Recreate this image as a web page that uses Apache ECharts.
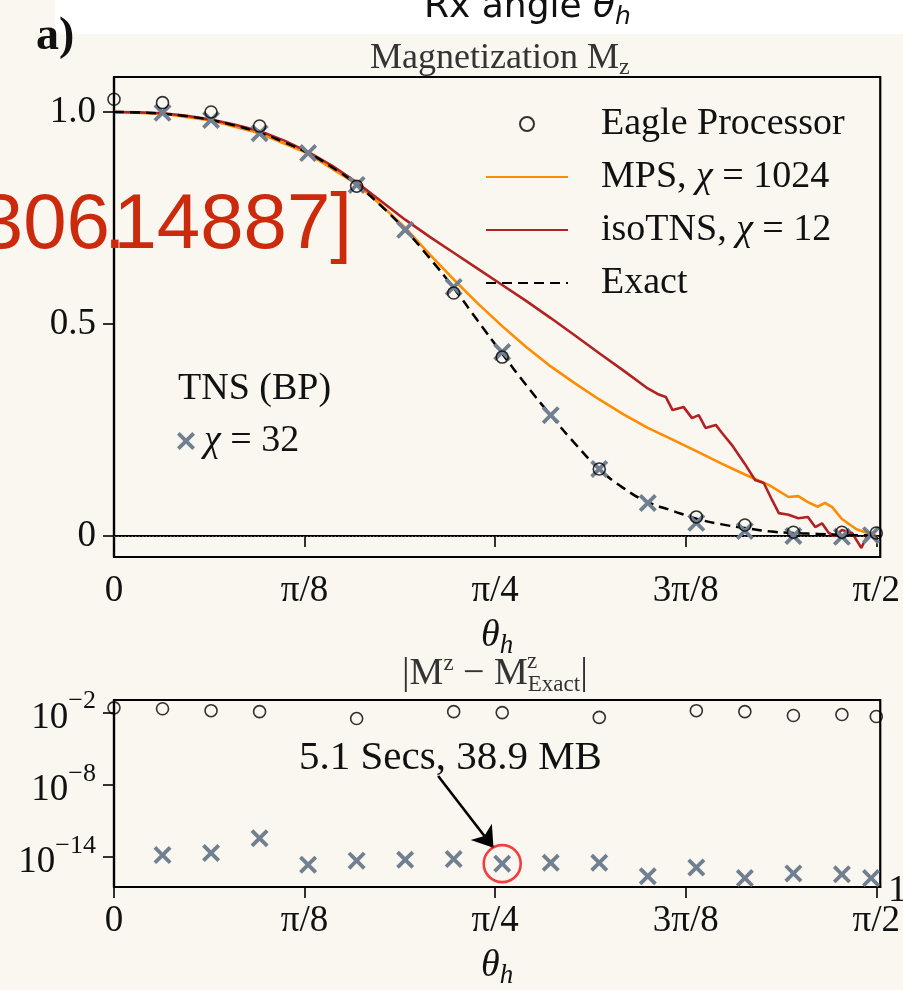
<!DOCTYPE html>
<html>
<head>
<meta charset="utf-8">
<script src="https://cdn.jsdelivr.net/npm/echarts@6/dist/echarts.min.js"></script>
<style>
  html, body { margin: 0; padding: 0; background: #faf6f0; }
  #chart { width: 903px; height: 990px; }
</style>
</head>
<body>
<div id="chart"></div>
<script>
var serif = '"Liberation Serif", "DejaVu Serif", serif';

// x ticks (radians) and their labels
var tickValues = [0, Math.PI / 8, Math.PI / 4, 3 * Math.PI / 8, Math.PI / 2];
var tickLabels = ['0', 'π/8', 'π/4', '3π/8', 'π/2'];

// Eagle processor (experiment)
var eagleTheta = [0, 0.1, 0.2, 0.3, 0.5, 0.7, 0.8, 1.0, 1.2, 1.3, 1.4, 1.5, 1.5708];
var eagleMz = [1.03, 1.022, 1.0, 0.967, 0.825, 0.573, 0.422, 0.158, 0.045, 0.026, 0.009, 0.009, 0.007];
var eagleErr = [0.025, 0.021, 0.0145, 0.012, 0.0032, 0.012, 0.01, 0.004, 0.0145, 0.012, 0.0058, 0.0069, 0.0048];

// TNS (BP), chi = 32
var tnsTheta = [0.1, 0.2, 0.3, 0.4, 0.5, 0.6, 0.7, 0.8, 0.9, 1.0, 1.1, 1.2, 1.3, 1.4, 1.5, 1.56];
var tnsMz = [0.998, 0.981, 0.95, 0.903, 0.828, 0.722, 0.587, 0.434, 0.285, 0.158, 0.078, 0.031, 0.012, 0.0, -0.002, 0.002];
var tnsErr = [1.4e-14, 2.1e-14, 3.5e-13, 2.2e-15, 4.8e-15, 5.8e-15, 6.5e-15, 2.7e-15, 3.2e-15, 3.2e-15, 2.4e-16, 1.3e-15, 1.7e-16, 4.2e-16, 3.5e-16, 1.7e-16];

// exact
var exactTheta = [0, 0.05, 0.1, 0.15, 0.2, 0.25, 0.3, 0.35, 0.4, 0.45, 0.5, 0.55, 0.6, 0.65, 0.7, 0.75, 0.8, 0.85, 0.9, 0.95, 1.0, 1.05, 1.1, 1.15, 1.2, 1.25, 1.3, 1.35, 1.4, 1.45, 1.5, 1.5708];
var exactMz = [1.0, 0.999, 0.996, 0.99, 0.981, 0.968, 0.951, 0.929, 0.903, 0.869, 0.829, 0.779, 0.722, 0.656, 0.585, 0.507, 0.43, 0.355, 0.285, 0.218, 0.158, 0.113, 0.08, 0.06, 0.041, 0.028, 0.019, 0.011, 0.007, 0.005, 0.003, 0.001];

// MPS, chi = 1024
var mpsTheta = [0, 0.1, 0.2, 0.3, 0.4, 0.5, 0.55, 0.6, 0.65, 0.7, 0.75, 0.8, 0.85, 0.9, 0.95, 1.0, 1.05, 1.1, 1.15, 1.2, 1.25, 1.3, 1.35, 1.39, 1.41, 1.43, 1.45, 1.465, 1.48, 1.5, 1.53, 1.5708];
var mpsMz = [1.0, 0.996, 0.98, 0.95, 0.902, 0.83, 0.781, 0.727, 0.665, 0.605, 0.548, 0.495, 0.445, 0.4, 0.36, 0.322, 0.287, 0.255, 0.228, 0.2, 0.172, 0.145, 0.12, 0.092, 0.094, 0.08, 0.069, 0.078, 0.068, 0.04, 0.016, 0.0];

// isoTNS, chi = 12
var isoTheta = [0, 0.05, 0.1, 0.15, 0.2, 0.25, 0.3, 0.35, 0.4, 0.45, 0.5, 0.55, 0.6, 0.65, 0.7, 0.75, 0.8, 0.85, 0.9, 0.95, 1.0, 1.05, 1.1, 1.12, 1.137, 1.151, 1.174, 1.191, 1.205, 1.219, 1.24, 1.253, 1.273, 1.3, 1.321, 1.339, 1.356, 1.37, 1.39, 1.41, 1.43, 1.445, 1.459, 1.473, 1.486, 1.5, 1.521, 1.54, 1.552, 1.5708];
var isoMz = [1.0, 0.999, 0.997, 0.991, 0.982, 0.97, 0.955, 0.933, 0.906, 0.873, 0.834, 0.79, 0.746, 0.706, 0.668, 0.63, 0.592, 0.554, 0.514, 0.473, 0.431, 0.39, 0.348, 0.335, 0.328, 0.297, 0.304, 0.278, 0.285, 0.255, 0.262, 0.243, 0.215, 0.17, 0.132, 0.125, 0.085, 0.054, 0.05, 0.042, 0.045, 0.021, 0.03, 0.007, 0.0, 0.014, 0.007, -0.028, 0.0, 0.0];

// annotation: marked TNS point and arrow start/end
var markedPoint = [0.8, 2.7e-15];
var arrowFrom = [0.668, Math.pow(10, -7.27)];
var arrowTo = [0.782, Math.pow(10, -13.25)];

function pairs(xs, ys) {
  return xs.map(function (x, i) { return [x, ys[i]]; });
}
function logPairs(xs, ys) {
  return xs.map(function (x, i) { return [x, Math.log10(ys[i])]; });
}
function xLabel(v) {
  var best = 0;
  for (var i = 1; i < tickValues.length; i++) {
    if (Math.abs(tickValues[i] - v) < Math.abs(tickValues[best] - v)) best = i;
  }
  return tickLabels[best];
}

var crossPath = 'path://M0,3 L3,0 L10,7 L17,0 L20,3 L13,10 L20,17 L17,20 L10,13 L3,20 L0,17 L7,10 Z';
var slate = '#708090';
var sans = '"Liberation Sans", Arial, sans-serif';
var arxivStyle = { fontFamily: sans, fontSize: 78, color: '#cc2a0c', fontWeight: 'normal' };

var thetaName = '{t|θ}{h|h}';
var thetaRich = {
  t: { fontFamily: serif, fontStyle: 'italic', fontWeight: 'normal', fontSize: 38, lineHeight: 46, color: '#111', verticalAlign: 'middle' },
  h: { fontFamily: serif, fontStyle: 'italic', fontWeight: 'normal', fontSize: 27, lineHeight: 27, color: '#111', verticalAlign: 'bottom' }
};

function xAxisFor(grid) {
  return {
    type: 'value', gridIndex: grid, min: 0, max: 1.579,
    name: thetaName, nameLocation: 'middle', nameGap: 56,
    nameTextStyle: { rich: thetaRich },
    axisLine: { lineStyle: { color: '#000', width: 2.2 } },
    axisTick: { show: true, length: 11, lineStyle: { color: '#000', width: 1.6 }, customValues: tickValues },
    axisLabel: { customValues: tickValues, formatter: xLabel, margin: 16, fontFamily: serif, fontSize: 37, color: '#111' },
    splitLine: { show: false }
  };
}

var noSymbol = { opacity: 0 };

var chart = echarts.init(document.getElementById('chart'));
chart.setOption({
  backgroundColor: '#faf6f0',
  animation: false,
  graphic: [
    { type: 'rect', left: 55, top: 0, z: -1, shape: { width: 848, height: 34 }, style: { fill: '#ffffff' } }
  ],
  title: [
    { text: 'a)', left: 36, top: 14, padding: 0,
      textStyle: { fontFamily: serif, fontWeight: 'bold', fontSize: 46, color: '#111' } },
    { text: '{a|Rx angle }{t|θ}{h|h}', left: 424, top: -14, padding: 0,
      textStyle: { rich: {
        a: { fontFamily: '"DejaVu Sans", sans-serif', fontWeight: 'normal', fontSize: 36, color: '#111', lineHeight: 44 },
        t: { fontFamily: '"DejaVu Sans", sans-serif', fontWeight: 'normal', fontStyle: 'italic', fontSize: 36, color: '#111', lineHeight: 44 },
        h: { fontFamily: '"DejaVu Sans", sans-serif', fontWeight: 'normal', fontStyle: 'italic', fontSize: 25, color: '#111', lineHeight: 25, verticalAlign: 'bottom' }
      } } },
    { text: '{a|Magnetization M}{s|z}', left: 370, top: 38, padding: 0,
      textStyle: { rich: {
        a: { fontFamily: serif, fontWeight: 'normal', fontSize: 36, color: '#333', lineHeight: 42 },
        s: { fontFamily: serif, fontWeight: 'normal', fontSize: 24, color: '#333', lineHeight: 24, verticalAlign: 'bottom' }
      } } },
    // overlaid arXiv id, cut at the left edge
    { text: '[2306', right: 793, top: 187, padding: 0, z: 20, textStyle: arxivStyle },
    { text: '.', left: 104, top: 187, padding: 0, z: 20, textStyle: arxivStyle },
    { text: '14887]', right: 551, top: 187, padding: 0, z: 20, textStyle: arxivStyle },
    { text: 'TNS (BP)', left: 178, top: 370, padding: 0,
      textStyle: { fontFamily: serif, fontSize: 38, color: '#111', fontWeight: 'normal' } },
    { text: '{a||M}{s|z}{a| − M}{p|Exact}{a||}', left: 402, top: 652, padding: 0,
      textStyle: { rich: {
        a: { fontFamily: serif, fontWeight: 'normal', fontSize: 38, color: '#333', lineHeight: 44 },
        s: { fontFamily: serif, fontWeight: 'normal', fontSize: 23, color: '#333', lineHeight: 23, verticalAlign: 'top' },
        p: { fontFamily: serif, fontWeight: 'normal', fontSize: 23, color: '#333', lineHeight: 23, verticalAlign: 'bottom' }
      } } },
    { text: 'z', left: 527, top: 650, padding: 0,
      textStyle: { fontFamily: serif, fontSize: 23, color: '#333', fontWeight: 'normal' } },
    { text: '5.1 Secs, 38.9 MB', left: 299, top: 738, padding: 0,
      textStyle: { fontFamily: serif, fontSize: 41, color: '#111', fontWeight: 'normal' } },
    { text: '1', left: 888, top: 872, padding: 0,
      textStyle: { fontFamily: serif, fontSize: 38, color: '#111', fontWeight: 'normal' } }
  ],
  legend: [
    {
      data: [
        { name: 'Eagle Processor' },
        { name: 'MPS, χ = 1024', itemStyle: noSymbol },
        { name: 'isoTNS, χ = 12', itemStyle: noSymbol },
        { name: 'Exact', itemStyle: noSymbol }
      ],
      orient: 'vertical', left: 485, top: 104, padding: 0,
      itemWidth: 82, itemHeight: 14, itemGap: 13, selectedMode: false,
      formatter: function (n) { return n.replace('χ', '{i|χ}'); },
      textStyle: {
        fontFamily: serif, fontSize: 38, color: '#111', lineHeight: 40, padding: [0, 0, 0, 28],
        rich: { i: { fontFamily: serif, fontStyle: 'italic', fontSize: 38, color: '#111' } }
      }
    },
    {
      data: ['TNS (BP), χ = 32'],
      left: 177, top: 421, padding: 0, itemWidth: 18, itemHeight: 18, selectedMode: false,
      formatter: function () { return '{i|χ} = 32'; },
      textStyle: {
        fontFamily: serif, fontSize: 38, color: '#111', lineHeight: 40, padding: [0, 0, 0, 4],
        rich: { i: { fontFamily: serif, fontStyle: 'italic', fontSize: 38, color: '#111' } }
      }
    }
  ],
  grid: [
    { left: 114, top: 77, width: 768, height: 480, show: true, borderColor: '#000', borderWidth: 2.2, backgroundColor: 'transparent' },
    { left: 114, top: 700, width: 768, height: 192, show: true, borderColor: '#000', borderWidth: 2.2, backgroundColor: 'transparent' }
  ],
  xAxis: [xAxisFor(0), xAxisFor(1)],
  yAxis: [
    {
      type: 'value', gridIndex: 0, min: -0.0495, max: 1.0825,
      axisLine: { show: true, lineStyle: { color: '#000', width: 2.2 } },
      axisTick: { show: true, length: 11, lineStyle: { color: '#000', width: 1.6 }, customValues: [0, 0.5, 1.0] },
      axisLabel: { customValues: [0, 0.5, 1.0], margin: 18, fontFamily: serif, fontSize: 37, color: '#111',
        formatter: function (v) { return v === 0 ? '0' : v.toFixed(1); } },
      splitLine: { show: false }
    },
    {
      type: 'value', gridIndex: 1, min: -16.51, max: -0.95,
      axisLine: { show: true, lineStyle: { color: '#000', width: 2.2 } },
      axisTick: { show: true, length: 11, lineStyle: { color: '#000', width: 1.6 }, customValues: [-14, -8, -2] },
      axisLabel: { customValues: [-14, -8, -2], margin: 18,
        formatter: function (v) { return '{b|10}{s|−' + Math.abs(Math.round(v)) + '}'; },
        rich: {
          b: { fontFamily: serif, fontSize: 37, color: '#111', lineHeight: 48, verticalAlign: 'bottom' },
          s: { fontFamily: serif, fontSize: 26, color: '#111', lineHeight: 26, verticalAlign: 'top' }
        } },
      splitLine: { show: false }
    }
  ],
  series: [
    {
      name: 'Exact', type: 'line', xAxisIndex: 0, yAxisIndex: 0, z: 3,
      data: pairs(exactTheta, exactMz), smooth: true, symbol: 'none',
      lineStyle: { color: '#000', width: 2.5, type: [10, 6] }, itemStyle: { color: '#000' },
      markLine: { silent: true, symbol: 'none', label: { show: false }, z: 1,
        lineStyle: { type: [1.5, 2], color: '#777', width: 0.8 }, data: [{ yAxis: 0 }] }
    },
    {
      name: 'MPS, χ = 1024', type: 'line', xAxisIndex: 0, yAxisIndex: 0, z: 2,
      data: pairs(mpsTheta, mpsMz), symbol: 'none',
      lineStyle: { color: '#ff8c00', width: 2.6 }, itemStyle: { color: '#ff8c00' }
    },
    {
      name: 'isoTNS, χ = 12', type: 'line', xAxisIndex: 0, yAxisIndex: 0, z: 2,
      data: pairs(isoTheta, isoMz), symbol: 'none',
      lineStyle: { color: '#b22222', width: 2.6 }, itemStyle: { color: '#b22222' }
    },
    {
      name: 'TNS (BP), χ = 32', type: 'scatter', xAxisIndex: 0, yAxisIndex: 0, z: 4,
      data: pairs(tnsTheta, tnsMz), symbol: crossPath, symbolSize: 18,
      itemStyle: { color: slate, opacity: 1 }
    },
    {
      name: 'Eagle Processor', type: 'scatter', xAxisIndex: 0, yAxisIndex: 0, z: 5,
      data: pairs(eagleTheta, eagleMz), symbol: 'circle', symbolSize: 12,
      itemStyle: { color: 'transparent', borderColor: '#000', borderWidth: 1.6 }
    },
    {
      name: 'TNS (BP), χ = 32', type: 'scatter', xAxisIndex: 1, yAxisIndex: 1, z: 4,
      data: logPairs(tnsTheta, tnsErr), symbol: crossPath, symbolSize: 18,
      itemStyle: { color: slate, opacity: 1 }
    },
    {
      name: 'Eagle Processor', type: 'scatter', xAxisIndex: 1, yAxisIndex: 1, z: 5,
      data: logPairs(eagleTheta, eagleErr), symbol: 'circle', symbolSize: 12,
      itemStyle: { color: 'transparent', borderColor: '#000', borderWidth: 1.6 }
    },
    {
      name: 'marked', type: 'scatter', xAxisIndex: 1, yAxisIndex: 1, z: 6, silent: true,
      data: [[markedPoint[0], Math.log10(markedPoint[1])]], symbol: 'circle', symbolSize: 37,
      itemStyle: { color: 'transparent', borderColor: '#ee1111', borderWidth: 2.6 },
      markLine: {
        silent: true, symbol: ['none', 'arrow'], symbolSize: 20, label: { show: false },
        lineStyle: { color: '#000', width: 2.6, type: 'solid' },
        itemStyle: { color: '#000' },
        data: [[
          { coord: [arrowFrom[0], Math.log10(arrowFrom[1])] },
          { coord: [arrowTo[0], Math.log10(arrowTo[1])] }
        ]]
      }
    }
  ]
});
</script>
</body>
</html>
